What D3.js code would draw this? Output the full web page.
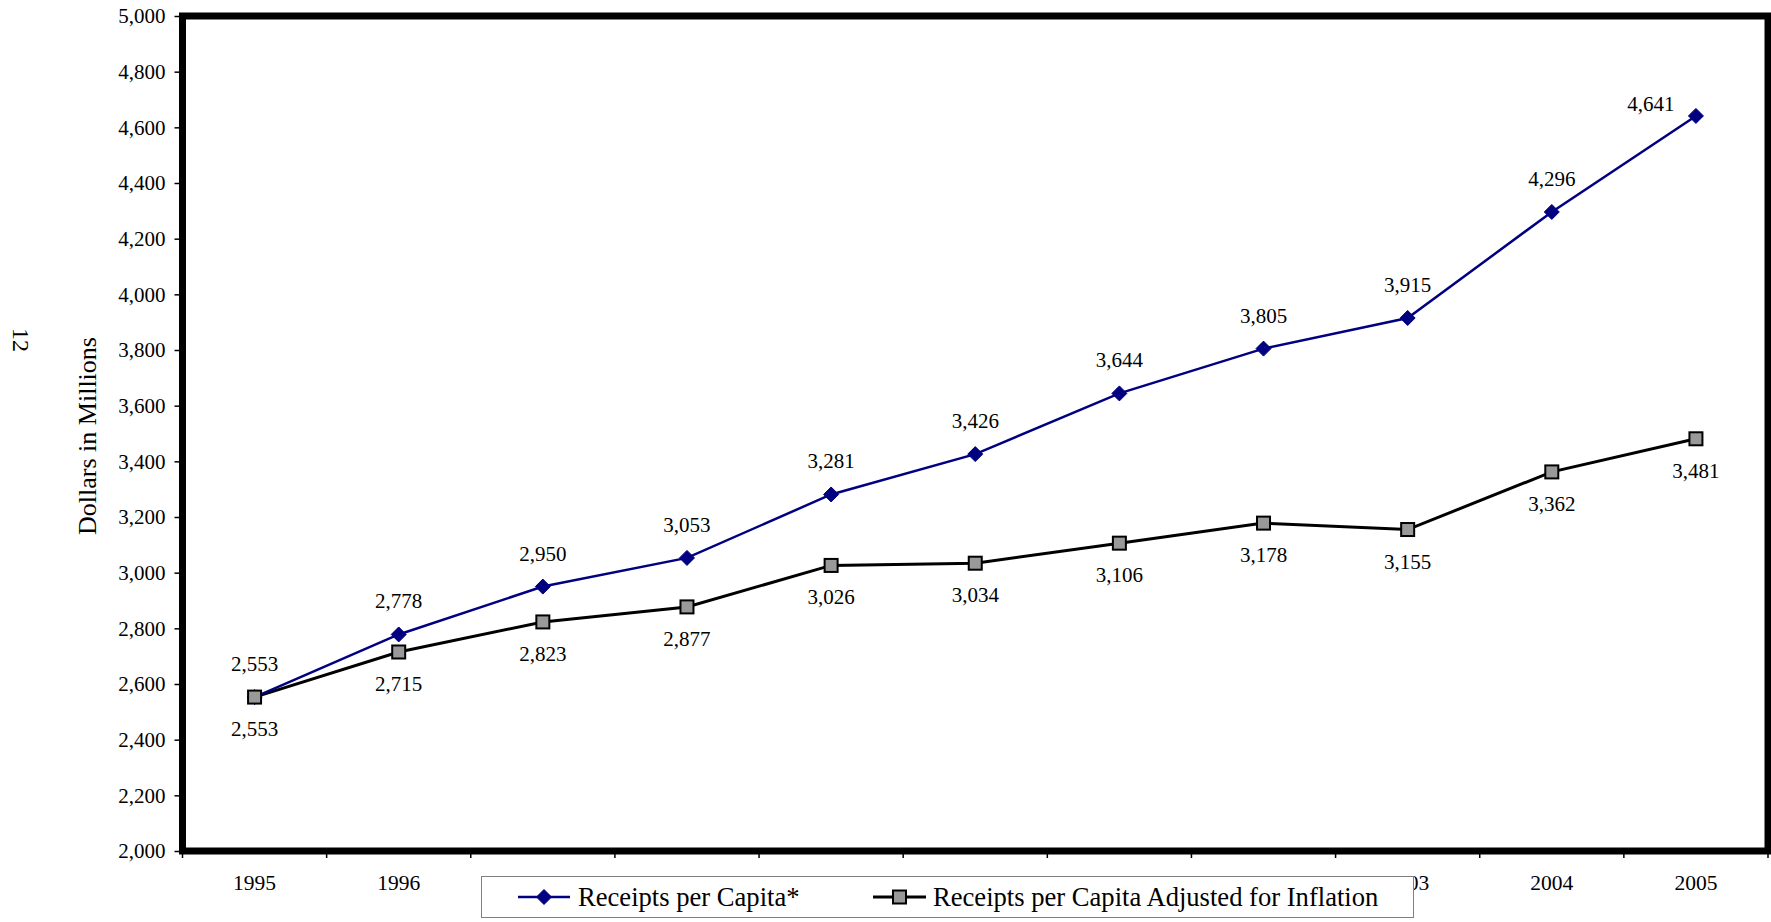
<!DOCTYPE html>
<html>
<head>
<meta charset="utf-8">
<script src="https://cdn.jsdelivr.net/npm/d3@7"></script>
<style>
  html, body { margin: 0; padding: 0; background: #fff; }
  svg { display: block; font-family: "Liberation Serif", "Times New Roman", serif; }
</style>
</head>
<body>
<svg id="chart" width="1771" height="922"></svg>
<script>
// Receipts per capita, nominal and inflation-adjusted, 1995-2005
const years = ["1995","1996","1997","1998","1999","2000","2001","2002","2003","2004","2005"];
const receiptsPerCapita = [2553, 2778, 2950, 3053, 3281, 3426, 3644, 3805, 3915, 4296, 4641];
const receiptsAdjusted = [2553, 2715, 2823, 2877, 3026, 3034, 3106, 3178, 3155, 3362, 3481];
const yTicks = [2000, 2200, 2400, 2600, 2800, 3000, 3200, 3400, 3600, 3800, 4000, 4200, 4400, 4600, 4800, 5000];
const seriesNames = ["Receipts per Capita*", "Receipts per Capita Adjusted for Inflation"];

const svg = d3.select("#chart");
const fmt = d3.format(",");

const plot = { left: 182.5, right: 1768, top: 16, bottom: 851 };

const x = d3.scaleBand().domain(years).range([plot.left, plot.right]).paddingInner(0).paddingOuter(0);
const y = d3.scaleLinear().domain([2000, 5000]).range([plot.bottom, plot.top]);
const cx = d => x(d) + x.bandwidth() / 2;

// y axis: ticks outside the frame, labels right-aligned
const yAxis = d3.axisLeft(y).tickValues(yTicks).tickFormat(fmt).tickSize(8).tickPadding(9);
const gy = svg.append("g").attr("transform", `translate(${plot.left},0)`).call(yAxis);
gy.select(".domain").remove();
gy.selectAll(".tick line").attr("stroke", "#000").attr("stroke-width", 1.5);
gy.selectAll(".tick text").attr("font-size", 21).attr("fill", "#000")
  .attr("font-family", "Liberation Serif, Times New Roman, serif");

// x axis: ticks between categories, labels centred in each band
const xTickPos = years.map(d => x(d)).concat([plot.right]);
svg.append("g").selectAll("line").data(xTickPos).join("line")
  .attr("x1", d => d).attr("x2", d => d)
  .attr("y1", plot.bottom).attr("y2", plot.bottom + 7)
  .attr("stroke", "#000").attr("stroke-width", 1.5);
svg.append("g").selectAll("text").data(years).join("text")
  .attr("x", d => cx(d)).attr("y", 883)
  .attr("text-anchor", "middle").attr("dominant-baseline", "central")
  .attr("font-size", 21.5).text(d => d);

// frame
svg.append("rect")
  .attr("x", plot.left).attr("y", plot.top)
  .attr("width", plot.right - plot.left).attr("height", plot.bottom - plot.top)
  .attr("fill", "none").attr("stroke", "#000").attr("stroke-width", 7);

// axis title
svg.append("text")
  .attr("transform", "translate(87,436) rotate(-90)")
  .attr("text-anchor", "middle").attr("dominant-baseline", "central")
  .attr("font-size", 26).text("Dollars in Millions");

// page number printed sideways
svg.append("text")
  .attr("transform", "translate(21,340) rotate(90)")
  .attr("text-anchor", "middle").attr("dominant-baseline", "central")
  .attr("font-size", 24).text("12");

const line = d3.line().x((d, i) => cx(years[i])).y(d => y(d));

const diamond = (g, px, py, r) => g.append("path")
  .attr("d", `M${px},${py - r}L${px + r},${py}L${px},${py + r}L${px - r},${py}Z`)
  .attr("fill", "#000080").attr("stroke", "#000080").attr("stroke-width", 1);
const square = (g, px, py, s) => g.append("rect")
  .attr("x", px - s / 2).attr("y", py - s / 2).attr("width", s).attr("height", s)
  .attr("fill", "#999999").attr("stroke", "#000").attr("stroke-width", 2);

// inflation-adjusted series
svg.append("path").datum(receiptsAdjusted).attr("d", line)
  .attr("fill", "none").attr("stroke", "#000").attr("stroke-width", 3);
// nominal series
svg.append("path").datum(receiptsPerCapita).attr("d", line)
  .attr("fill", "none").attr("stroke", "#000080").attr("stroke-width", 2.5);

const marks = svg.append("g");
receiptsPerCapita.forEach((v, i) => diamond(marks, cx(years[i]), y(v), 7.5));
receiptsAdjusted.forEach((v, i) => square(marks, cx(years[i]), y(v), 13));

// value labels: nominal above, adjusted below
const labels = svg.append("g").attr("font-size", 21)
  .attr("text-anchor", "middle").attr("dominant-baseline", "central");
receiptsPerCapita.forEach((v, i) => {
  const last = i === receiptsPerCapita.length - 1;
  labels.append("text")
    .attr("x", cx(years[i]) - (last ? 45 : 0))
    .attr("y", y(v) - (last ? 12 : 33))
    .text(fmt(v));
});
receiptsAdjusted.forEach((v, i) => {
  labels.append("text")
    .attr("x", cx(years[i]))
    .attr("y", y(v) + 32)
    .text(fmt(v));
});

// legend
const lg = svg.append("g");
lg.append("rect").attr("x", 481.5).attr("y", 876.5).attr("width", 932).attr("height", 41)
  .attr("fill", "#fff").attr("stroke", "#808080").attr("stroke-width", 1);
const legY = 897;
lg.append("line").attr("x1", 518).attr("x2", 570).attr("y1", legY).attr("y2", legY)
  .attr("stroke", "#000080").attr("stroke-width", 2.5);
diamond(lg, 544, legY, 7.5);
lg.append("text").attr("x", 578).attr("y", legY).attr("dominant-baseline", "central")
  .attr("font-size", 26.6).text(seriesNames[0]);
lg.append("line").attr("x1", 873).attr("x2", 926).attr("y1", legY).attr("y2", legY)
  .attr("stroke", "#000").attr("stroke-width", 3);
square(lg, 899.5, legY, 13);
lg.append("text").attr("x", 933).attr("y", legY).attr("dominant-baseline", "central")
  .attr("font-size", 26.6).text(seriesNames[1]);
</script>
</body>
</html>
